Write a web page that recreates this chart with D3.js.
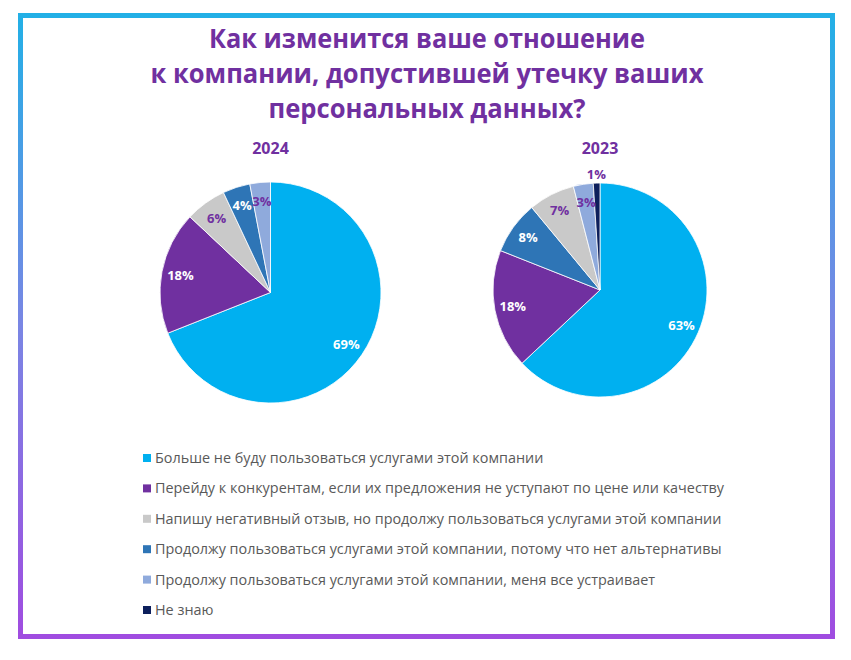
<!DOCTYPE html>
<html lang="ru">
<head>
    <meta charset="UTF-8">
    <title>Утечка персональных данных</title>
    <script src="https://d3js.org/d3.v7.min.js"></script>
    <style>
        body { margin: 0; background: #fff; }
        .title { font-family: "Open Sans", sans-serif; font-weight: 700; font-size: 27px; fill: #7030a0; }
        .year { font-family: "Open Sans", sans-serif; font-weight: 700; font-size: 16px; fill: #7030a0; }
        .pct { font-family: "Open Sans", sans-serif; font-weight: 700; font-size: 13px; }
        .legend { font-family: "Open Sans", sans-serif; font-size: 14.4px; fill: #595959; }
    </style>
</head>
<body>
<svg width="851" height="660"></svg>
<script>
    // данные
    const titleLines = [
        "Как изменится ваше отношение",
        "к компании, допустившей утечку ваших",
        "персональных данных?"
    ];
    const categories = [
        "Больше не буду пользоваться услугами этой компании",
        "Перейду к конкурентам, если их предложения не уступают по цене или качеству",
        "Напишу негативный отзыв, но продолжу пользоваться услугами этой компании",
        "Продолжу пользоваться услугами этой компании, потому что нет альтернативы",
        "Продолжу пользоваться услугами этой компании, меня все устраивает",
        "Не знаю"
    ];
    const colors = ["#00b0f0", "#7030a0", "#c9c9c9", "#2e75b6", "#8faadc", "#0d1f5c"];
    const years = ["2024", "2023"];
    // порядок секторов по часовой стрелке (индексы категорий)
    const order2024 = [0, 1, 2, 3, 4];
    const values2024 = [69, 18, 6, 4, 3];
    const order2023 = [0, 1, 3, 2, 4, 5];
    const values2023 = [63, 18, 8, 7, 3, 1];
    // подписи, которые пишутся фиолетовым
    const darkLabels = [2, 4, 5];

    const svg = d3.select("svg");

    const grad = svg.append("defs").append("linearGradient")
        .attr("id", "frame")
        .attr("gradientUnits", "userSpaceOnUse")
        .attr("x1", 0).attr("y1", 13).attr("x2", 0).attr("y2", 639);
    grad.append("stop").attr("offset", "0%").attr("stop-color", "#22b0e6");
    grad.append("stop").attr("offset", "50%").attr("stop-color", "#7a86e4");
    grad.append("stop").attr("offset", "100%").attr("stop-color", "#a04ce0");

    svg.append("rect")
        .attr("x", 20.5).attr("y", 15.5)
        .attr("width", 812).attr("height", 621)
        .attr("fill", "none")
        .attr("stroke", "url(#frame)")
        .attr("stroke-width", 5);

    const title = svg.append("g");
    const titleW = [436, 553, 317];
    titleLines.forEach((t, i) => {
        title.append("text")
            .attr("class", "title")
            .attr("x", 427)
            .attr("y", 48 + i * 35)
            .attr("text-anchor", "middle")
            .attr("textLength", titleW[i])
            .attr("lengthAdjust", "spacingAndGlyphs")
            .text(t);
    });

    const color = d3.scaleOrdinal().domain(d3.range(categories.length)).range(colors);

    const pies = [
        {year: years[0], order: order2024, values: values2024, cx: 270.5, cy: 292.5, r: 110.5},
        {year: years[1], order: order2023, values: values2023, cx: 600, cy: 290, r: 107}
    ];

    const pie = d3.pie().sort(null).value(d => d.v);

    pies.forEach(p => {
        const data = p.order.map((c, i) => ({c: c, v: p.values[i]}));
        const g = svg.append("g").attr("transform", `translate(${p.cx},${p.cy})`);
        const arc = d3.arc().innerRadius(0).outerRadius(p.r);

        g.selectAll("path")
            .data(pie(data))
            .enter().append("path")
            .attr("d", arc)
            .attr("fill", d => color(d.data.c))
            .attr("stroke", "#fff")
            .attr("stroke-width", 0.8);

        g.selectAll("text.pct")
            .data(pie(data))
            .enter().append("text")
            .attr("class", "pct")
            .attr("transform", d => {
                const k = d.data.v < 2 ? 1.08 : 0.83;
                const a = (d.startAngle + d.endAngle) / 2;
                return `translate(${Math.sin(a) * p.r * k},${-Math.cos(a) * p.r * k})`;
            })
            .attr("text-anchor", "middle")
            .attr("dy", "0.35em")
            .attr("fill", d => darkLabels.includes(d.data.c) ? "#7030a0" : "#fff")
            .text(d => d.data.v + "%");

        svg.append("text")
            .attr("class", "year")
            .attr("x", p.cx)
            .attr("y", 154)
            .attr("text-anchor", "middle")
            .text(p.year);
    });

    const legend = svg.append("g").attr("transform", "translate(143,458)");
    const item = legend.selectAll("g")
        .data(categories)
        .enter().append("g")
        .attr("transform", (d, i) => `translate(0,${i * 30.4})`);
    item.append("rect")
        .attr("x", 0).attr("y", -4)
        .attr("width", 8).attr("height", 8)
        .attr("fill", (d, i) => color(i));
    item.append("text")
        .attr("class", "legend")
        .attr("x", 12)
        .attr("dy", "0.35em")
        .text(d => d);
</script>
</body>
</html>
